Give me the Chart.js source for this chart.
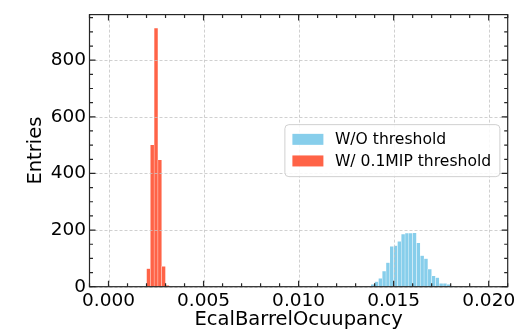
<!DOCTYPE html>
<html>
<head>
<meta charset="utf-8">
<script src="https://cdn.jsdelivr.net/npm/chart.js@4/dist/chart.umd.min.js"></script>
<style>
  html, body { margin: 0; padding: 0; background: #fff; }
</style>
</head>
<body>
<canvas id="occ" width="530" height="336"></canvas>
<script>
// histogram bins (width 0.0002), counts
const BIN_WIDTH = 0.0002;
const woStart = 0.0138;
const woCounts = [8, 18, 30, 55, 85, 143, 145, 160, 186, 189, 189, 190, 155, 110, 99, 62, 38, 32, 12, 12, 8, 3];
const wStart = 0.0020;
const wCounts = [64, 501, 913, 448, 72, 5];
const xTicks = [0, 0.005, 0.010, 0.015, 0.020];
const yTicks = [0, 200, 400, 600, 800];
const xMinorStep = 0.001;
const yMinorStep = 50;

const FONT = "'DejaVu Sans', sans-serif";

function toPoints(start, counts) {
    return counts.map((c, i) => ({ x: start + (i + 0.5) * BIN_WIDTH, y: c }));
}

// grid on top of bars, inward ticks on all four sides, frame
const frameAndTicks = {
    id: 'frameAndTicks',
    afterDatasetsDraw(chart) {
        const { ctx, chartArea: a, scales: { x, y } } = chart;
        ctx.save();
        ctx.strokeStyle = '#c4c4c4';
        ctx.lineWidth = 0.8;
        ctx.setLineDash([3, 2]);
        ctx.beginPath();
        xTicks.forEach(v => { const p = Math.round(x.getPixelForValue(v)) + 0.5; ctx.moveTo(p, a.top); ctx.lineTo(p, a.bottom); });
        yTicks.forEach(v => { const p = Math.round(y.getPixelForValue(v)) + 0.5; ctx.moveTo(a.left, p); ctx.lineTo(a.right, p); });
        ctx.stroke();
        ctx.setLineDash([]);

        ctx.strokeStyle = '#262626';
        ctx.lineWidth = 1.2;
        ctx.beginPath();
        const tick = (len, vx, vy) => {
            if (vx !== null) {
                ctx.moveTo(vx, a.bottom); ctx.lineTo(vx, a.bottom - len);
                ctx.moveTo(vx, a.top); ctx.lineTo(vx, a.top + len);
            } else {
                ctx.moveTo(a.left, vy); ctx.lineTo(a.left + len, vy);
                ctx.moveTo(a.right, vy); ctx.lineTo(a.right - len, vy);
            }
        };
        for (let v = x.min; v <= x.max + 1e-9; v += xMinorStep) tick(3.5, x.getPixelForValue(v), null);
        for (let v = 0; v <= y.max; v += yMinorStep) tick(3.5, null, y.getPixelForValue(v));
        xTicks.forEach(v => tick(6, x.getPixelForValue(v), null));
        yTicks.forEach(v => tick(6, null, y.getPixelForValue(v)));
        ctx.stroke();
        ctx.strokeRect(a.left, a.top, a.right - a.left, a.bottom - a.top);
        ctx.restore();
    },
    afterDraw(chart) {
        // legend box, centre right
        const { ctx, chartArea: a } = chart;
        const fs = 15.6;
        const w = 215, h = 52;
        const x0 = a.right - 7.8 - w;
        const y0 = (a.top + a.bottom) / 2 - h / 2;
        ctx.save();
        ctx.fillStyle = 'rgba(255,255,255,0.85)';
        ctx.strokeStyle = '#d0d0d0';
        ctx.lineWidth = 1;
        ctx.beginPath();
        ctx.roundRect(x0, y0, w, h, 4);
        ctx.fill();
        ctx.stroke();
        ctx.font = fs + 'px ' + FONT;
        ctx.textBaseline = 'middle';
        chart.data.datasets.forEach((ds, i) => {
            const cy = y0 + 14.7 + i * 21.6;
            ctx.fillStyle = ds.backgroundColor;
            ctx.fillRect(x0 + 7.5, cy - 5.5, 31, 11);
            ctx.fillStyle = '#000';
            ctx.fillText(ds.label, x0 + 50, cy + 0.5);
        });
        ctx.restore();
    }
};

new Chart(document.getElementById('occ'), {
    type: 'bar',
    data: {
        datasets: [
            { label: 'W/O threshold', data: toPoints(woStart, woCounts), backgroundColor: '#87ceeb',
              borderColor: 'rgba(255,255,255,0.7)', borderWidth: 0.5, barPercentage: 1, categoryPercentage: 1, grouped: false },
            { label: 'W/ 0.1MIP threshold', data: toPoints(wStart, wCounts), backgroundColor: '#ff6347',
              borderColor: 'rgba(255,255,255,0.7)', borderWidth: 0.5, barPercentage: 1, categoryPercentage: 1, grouped: false }
        ]
    },
    options: {
        responsive: false,
        animation: false,
        devicePixelRatio: 1,
        layout: { padding: { top: 10, right: 22.3, left: 0, bottom: 0 } },
        plugins: { legend: { display: false }, tooltip: { enabled: false } },
        scales: {
            x: {
                type: 'linear', min: -0.001, max: 0.021, offset: false,
                grid: { display: false, drawTicks: false }, border: { display: false },
                afterBuildTicks: s => { s.ticks = xTicks.map(v => ({ value: v })); },
                afterFit: s => { s.height = 49.3; },
                ticks: { color: '#000', font: { family: FONT, size: 18.5 }, padding: 3, maxRotation: 0, autoSkip: false,
                         callback: v => v.toFixed(3) },
                title: { display: true, text: 'EcalBarrelOcuupancy', color: '#000', font: { family: FONT, size: 19.5 }, padding: { bottom: 4 } }
            },
            y: {
                min: 0, max: 961,
                grid: { display: false, drawTicks: false }, border: { display: false },
                afterBuildTicks: s => { s.ticks = yTicks.map(v => ({ value: v })); },
                afterFit: s => { s.width = 89.5; },
                ticks: { color: '#000', font: { family: FONT, size: 18.5 }, padding: 3.5 },
                title: { display: true, text: 'Entries', color: '#000', font: { family: FONT, size: 19.5 }, padding: { top: 24 } }
            }
        }
    },
    plugins: [frameAndTicks]
});
</script>
</body>
</html>
